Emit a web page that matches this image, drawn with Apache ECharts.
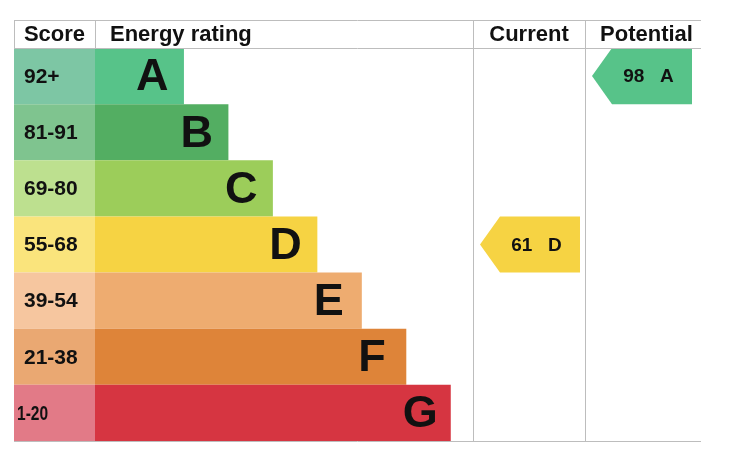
<!DOCTYPE html>
<html><head><meta charset="utf-8">
<script src="https://cdn.jsdelivr.net/npm/echarts@6/dist/echarts.min.js"></script>
<style>html,body{margin:0;padding:0;background:#fff}#c{width:734px;height:458px}</style>
</head><body><div id="c"></div>
<script>
// ---- data ----
const bands = ['A','B','C','D','E','F','G'];
const scoreRanges = ['92+','81-91','69-80','55-68','39-54','21-38','1-20'];
const bandMin = [92,81,69,55,39,21,1];
const barLength = [2,3,4,5,6,7,8];
const headers = ['Score','Energy rating','Current','Potential'];
const currentScore = 61;
const potentialScore = 98;
// ---- colours ----
const scoreColors = ['#7dc6a4','#7fc48f','#bde08f','#fae47c','#f6c69f','#eaa872','#e27a87'];
const barColors = ['#57c389','#53ae62','#9ccd5a','#f6d343','#eeac70','#de8439','#d63541'];

function bandOf(s){ for(let i=0;i<bandMin.length;i++){ if(s>=bandMin[i]) return bands[i]; } return 'G'; }

const FONT = '"Liberation Sans", Arial, sans-serif';
const T = 48, H = 393;
const cols = [{l:14,w:81},{l:95,w:378},{l:473,w:112},{l:585,w:116}];
const grids = cols.map(c=>({left:c.l, width:c.w, top:T, height:H, containLabel:false}));
const xMax = [1, 8.5, 1, 1];
const xAxes = cols.map((c,i)=>({type:'value', gridIndex:i, min:0, max:xMax[i], show:false}));
const yAxes = cols.map((c,i)=>({type:'category', gridIndex:i, data:bands, inverse:true, show:false}));

function scoreRender(params, api){
  const i = params.dataIndex;
  const p0 = api.coord([0, i]);
  const p1 = api.coord([api.value(1), i]);
  const h = api.size([0,1])[1];
  const narrow = (i === bands.length - 1);
  return {
    type:'group',
    children:[
      {type:'rect', shape:{x:p0[0], y:p0[1]-h/2, width:p1[0]-p0[0], height:h}, style:{fill:scoreColors[i]}},
      {type:'text', x: p0[0] + (narrow ? 3 : 10), y: p0[1] + 1, scaleX: narrow ? 0.74 : 1,
       style:{x:0, y:0, text:scoreRanges[i], font:'bold 21px '+FONT, fill:'#111', align:'left', verticalAlign:'middle'}}
    ]
  };
}

function arrowRender(params, api){
  const cat = api.value(1);
  const p = api.coord([0, cat]);
  const h = api.size([0,1])[1];
  const x0 = p[0], y = p[1];
  const score = api.value(0);
  const band = bands[cat];
  return {
    type:'group',
    children:[
      {type:'polygon', shape:{points:[[x0+7,y],[x0+27,y-h/2],[x0+107,y-h/2],[x0+107,y+h/2],[x0+27,y+h/2]]},
       style:{fill:barColors[cat]}},
      {type:'text', style:{x:x0+63.5, y:y+1, text:score+'   '+band, font:'bold 19px '+FONT, fill:'#111',
        align:'center', verticalAlign:'middle'}}
    ]
  };
}

const lineStyle = {stroke:'#bdbdbd', lineWidth:1};
const L = (x1,y1,x2,y2)=>({type:'line', shape:{x1,y1,x2,y2}, style:lineStyle, z:10});

const option = {
  animation:false,
  grid: grids,
  xAxis: xAxes,
  yAxis: yAxes,
  series: [
    {type:'custom', xAxisIndex:0, yAxisIndex:0, renderItem:scoreRender,
     data: bands.map((b,i)=>[i, 1])},
    {type:'bar', xAxisIndex:1, yAxisIndex:1, barCategoryGap:'0%',
     data: barLength.map((v,i)=>({value:v, itemStyle:{color:barColors[i]}})),
     label:{show:true, position:'insideRight', distance:48, align:'left', formatter:p=>bands[p.dataIndex],
       fontFamily:FONT, fontWeight:'bold', fontSize:45, color:'#111', offset:[0,2]}},
    {type:'custom', xAxisIndex:2, yAxisIndex:2, renderItem:arrowRender,
     data:[[currentScore, bands.indexOf(bandOf(currentScore))]]},
    {type:'custom', xAxisIndex:3, yAxisIndex:3, renderItem:arrowRender,
     data:[[potentialScore, bands.indexOf(bandOf(potentialScore))]]}
  ],
  graphic: [
    L(14,20.5,701,20.5), L(14,48.5,701,48.5), L(14,441.5,701,441.5),
    L(14.5,20,14.5,48), L(95.5,20,95.5,48), L(473.5,20,473.5,441), L(585.5,20,585.5,441),
    {type:'text', style:{x:54.5, y:35, text:headers[0], font:'bold 22px '+FONT, fill:'#111', align:'center', verticalAlign:'middle'}},
    {type:'text', style:{x:110, y:35, text:headers[1], font:'bold 22px '+FONT, fill:'#111', align:'left', verticalAlign:'middle'}},
    {type:'text', style:{x:529, y:35, text:headers[2], font:'bold 22px '+FONT, fill:'#111', align:'center', verticalAlign:'middle'}},
    {type:'text', style:{x:646.5, y:35, text:headers[3], font:'bold 22px '+FONT, fill:'#111', align:'center', verticalAlign:'middle'}}
  ]
};
const chart = echarts.init(document.getElementById('c'), null, {renderer:'canvas'});
chart.setOption(option);
</script></body></html>
